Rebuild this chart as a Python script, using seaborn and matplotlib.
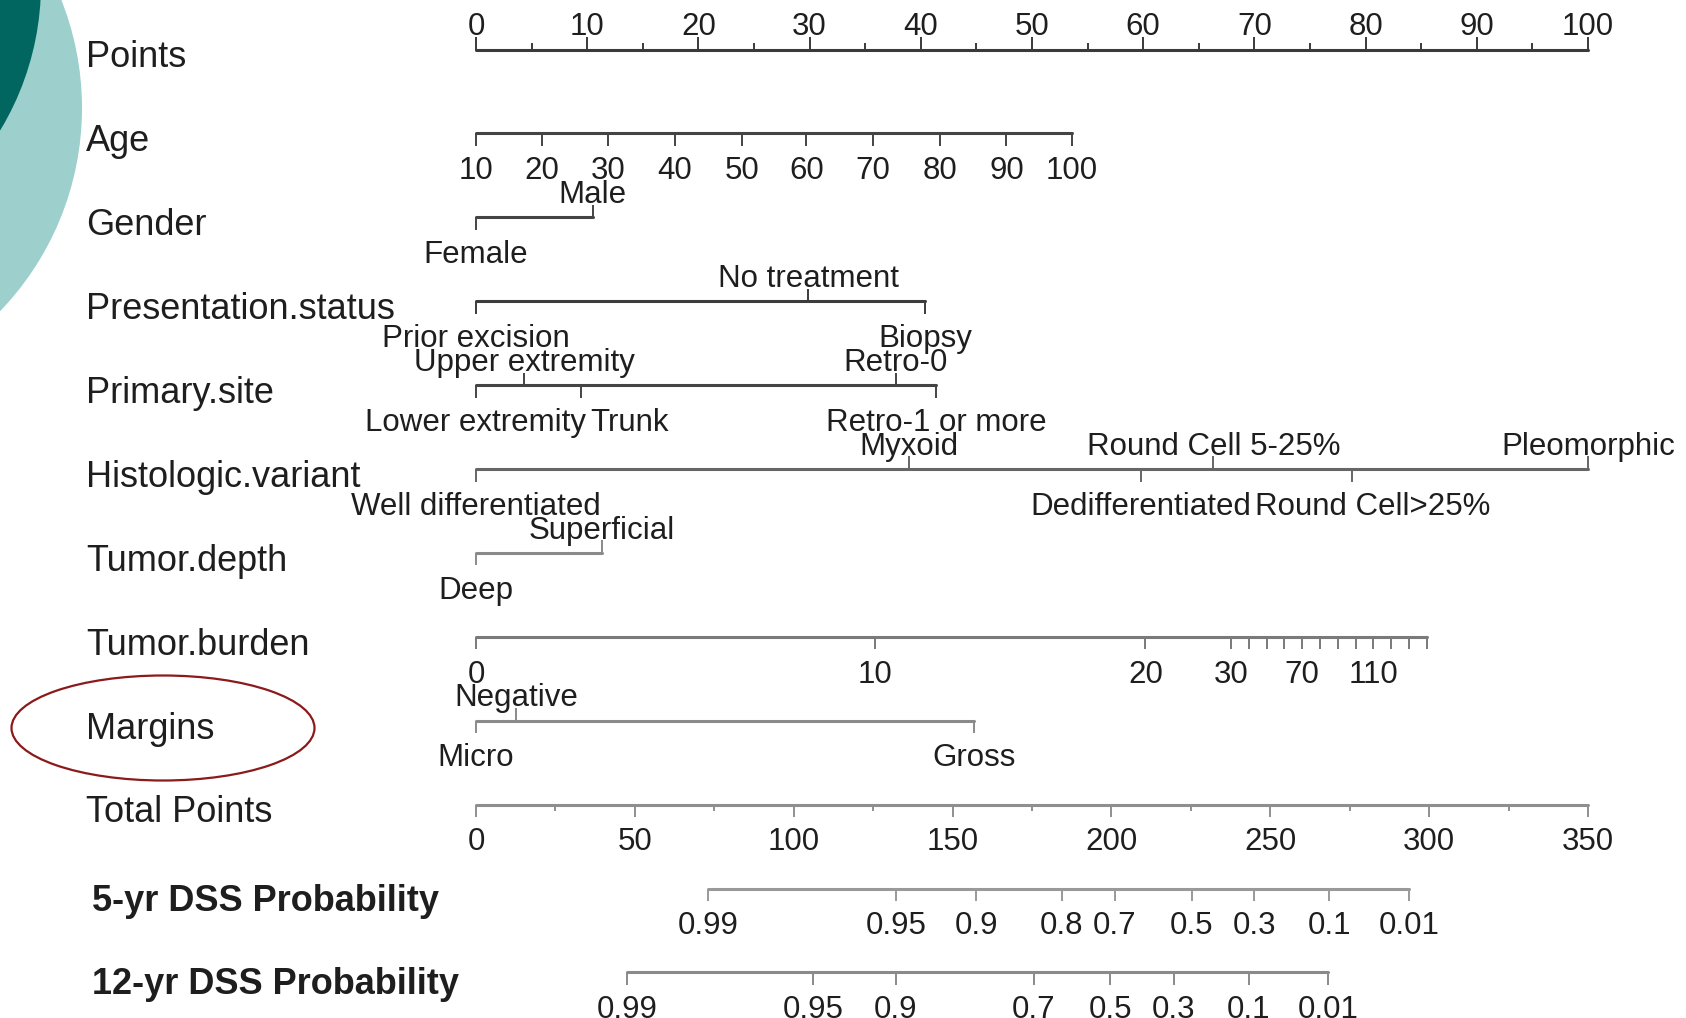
import numpy as np
import pandas as pd
import matplotlib
matplotlib.use("Agg")
import matplotlib.pyplot as plt
from matplotlib.patches import Ellipse
import seaborn as sns

sns.set_theme(style="white")
plt.rcParams["font.family"] = ["Liberation Sans", "DejaVu Sans"]

# ---------------------------------------------------------------- data
row_titles = ["Points", "Age", "Gender", "Presentation.status", "Primary.site",
              "Histologic.variant", "Tumor.depth", "Tumor.burden", "Margins",
              "Total Points", "5-yr DSS Probability", "12-yr DSS Probability"]

points_major = [0, 10, 20, 30, 40, 50, 60, 70, 80, 90, 100]
points_minor = [5, 15, 25, 35, 45, 55, 65, 75, 85, 95]

age_values = [10, 20, 30, 40, 50, 60, 70, 80, 90, 100]
age_points = [0, 5.9, 11.9, 17.9, 23.9, 29.7, 35.7, 41.7, 47.7, 53.6]

gender_levels = ["Female", "Male"]
gender_points = [0, 10.5]
gender_sides = ["below", "above"]

presentation_levels = ["Prior excision", "No treatment", "Biopsy"]
presentation_points = [0, 29.9, 40.4]
presentation_sides = ["below", "above", "below"]

site_levels = ["Lower extremity", "Upper extremity", "Trunk", "Retro-0", "Retro-1 or more"]
site_points = [0, 4.35, 9.45, 37.75, 41.4]
site_sides = ["below", "above", "below", "above", "below"]

histo_levels = ["Well differentiated", "Myxoid", "Dedifferentiated",
                "Round Cell 5-25%", "Round Cell>25%", "Pleomorphic"]
histo_points = [0, 38.9, 59.8, 66.3, 78.8, 100]
histo_sides = ["below", "above", "below", "above", "below", "above"]

depth_levels = ["Deep", "Superficial"]
depth_points = [0, 11.3]
depth_sides = ["below", "above"]

burden_values = [0, 10, 20, 30, 40, 50, 60, 70, 80, 90, 100, 110, 120, 130, 140]
burden_points = [0, 35.9, 60.2, 67.9, 69.5, 71.1, 72.7, 74.3, 75.9, 77.5,
                 79.1, 80.7, 82.3, 83.9, 85.5]
burden_labelled = [0, 10, 20, 30, 70, 110]

margin_levels = ["Micro", "Negative", "Gross"]
margin_points = [0, 3.6, 44.8]
margin_sides = ["below", "above", "below"]

total_major = [0, 50, 100, 150, 200, 250, 300, 350]
total_minor = [25, 75, 125, 175, 225, 275, 325]
total_max = 350

dss5_labels = ["0.99", "0.95", "0.9", "0.8", "0.7", "0.5", "0.3", "0.1", "0.01"]
dss5_total = [73.1, 132.1, 157.4, 184.4, 201.0, 225.3, 244.9, 268.6, 293.6]

dss12_labels = ["0.99", "0.95", "0.9", "0.7", "0.5", "0.3", "0.1", "0.01"]
dss12_total = [47.5, 106.0, 132.1, 175.6, 199.6, 219.6, 243.3, 268.1]

# ---------------------------------------------------------------- layout
W, H = 1686, 1018
PX_PER_PT = 11.12          # pixels per point on the Points scale
X0_PX = 476                # pixel column of 0 points
ROW0_PX, ROW_STEP_PX = 49.5, 83.9

TICK_FS = 22.5
TITLE_FS = 26
TICK_LEN = 0.15
MINOR_LEN = 0.08
ABOVE_OFF = -0.265
BELOW_OFF = 0.45
TEXT_COLOR = "#1e1e1e"

row_colors = {
    "Points": "#3a3a3a", "Age": "#444444", "Gender": "#444444",
    "Presentation.status": "#3c3c3c", "Primary.site": "#444444",
    "Histologic.variant": "#666666", "Tumor.depth": "#8a8a8a",
    "Tumor.burden": "#7a7a7a", "Margins": "#8a8a8a",
    "Total Points": "#8f8f8f", "5-yr DSS Probability": "#999999",
    "12-yr DSS Probability": "#8a8a8a",
}


def tot2pts(v):
    return np.asarray(v, dtype=float) * 100.0 / total_max


# Each row: list of (points, label or None, side, is_minor)
rows = {}
rows["Points"] = ([(p, str(p), "above", False) for p in points_major] +
                  [(p, None, "above", True) for p in points_minor])
rows["Age"] = [(p, str(v), "below", False) for v, p in zip(age_values, age_points)]
rows["Gender"] = list(zip(gender_points, gender_levels, gender_sides, [False] * 2))
rows["Presentation.status"] = list(zip(presentation_points, presentation_levels,
                                       presentation_sides, [False] * 3))
rows["Primary.site"] = list(zip(site_points, site_levels, site_sides, [False] * 5))
rows["Histologic.variant"] = list(zip(histo_points, histo_levels, histo_sides, [False] * 6))
rows["Tumor.depth"] = list(zip(depth_points, depth_levels, depth_sides, [False] * 2))
rows["Tumor.burden"] = [(p, str(v) if v in burden_labelled else None, "below", False)
                        for v, p in zip(burden_values, burden_points)]
rows["Margins"] = list(zip(margin_points, margin_levels, margin_sides, [False] * 3))
rows["Total Points"] = ([(p, str(v), "below", False)
                         for v, p in zip(total_major, tot2pts(total_major))] +
                        [(p, None, "below", True) for p in tot2pts(total_minor)])
rows["5-yr DSS Probability"] = [(p, l, "below", False)
                                for l, p in zip(dss5_labels, tot2pts(dss5_total))]
rows["12-yr DSS Probability"] = [(p, l, "below", False)
                                 for l, p in zip(dss12_labels, tot2pts(dss12_total))]

# ---------------------------------------------------------------- figure
fig = plt.figure(figsize=(W / 100, H / 100), dpi=100, facecolor="white")
ax = fig.add_axes([0, 0, 1, 1])

# decorative discs in the upper-left corner
fig.add_artist(Ellipse((-211 / W, 1 - 108 / H), 2 * 293 / W, 2 * 293 / H,
                       transform=fig.transFigure, facecolor="#9dcfcc",
                       edgecolor="none", zorder=-2))
fig.add_artist(Ellipse((-242 / W, 1 + 16 / H), 2 * 283 / W, 2 * 283 / H,
                       transform=fig.transFigure, facecolor="#00665f",
                       edgecolor="none", zorder=-1))

# horizontal scale lines
seg = []
for i, name in enumerate(row_titles):
    xs = [t[0] for t in rows[name]]
    seg.append({"row": name, "x": min(xs), "y": i})
    seg.append({"row": name, "x": max(xs), "y": i})
seg = pd.DataFrame(seg)
sns.lineplot(data=seg, x="x", y="y", hue="row", palette=row_colors, units="row",
             estimator=None, sort=False, legend=False, linewidth=2.2, ax=ax)

label_groups = {}
for i, name in enumerate(row_titles):
    col = row_colors[name]
    for p, lab, side, minor in rows[name]:
        length = MINOR_LEN if minor else TICK_LEN
        sgn = -1 if side == "above" else 1
        ax.vlines(p, i, i + sgn * length, colors=col, linewidth=1.4)
        if lab is not None:
            off = ABOVE_OFF if side == "above" else BELOW_OFF
            t = ax.text(p, i + off, lab, ha="center", va="center",
                        fontsize=TICK_FS, color=TEXT_COLOR)
            label_groups.setdefault((name, side), []).append(t)

# row titles
for i, name in enumerate(row_titles):
    bold = "DSS" in name
    ax.text(92 / W if bold else 86 / W, i + (0.15 if bold else 0.1), name,
            transform=ax.get_yaxis_transform(), ha="left", va="center",
            fontsize=26 if bold else TITLE_FS,
            fontweight="bold" if bold else "normal", color=TEXT_COLOR)

# highlight ring around the Margins title
fig.add_artist(Ellipse((163 / W, 1 - 728 / H), 303 / W, 105 / H,
                       transform=fig.transFigure, facecolor="none",
                       edgecolor="#8b1a1a", linewidth=1.6, zorder=5))

ax.set_xlim(-X0_PX / PX_PER_PT, (W - X0_PX) / PX_PER_PT)
ax.set_ylim((H - ROW0_PX) / ROW_STEP_PX, -ROW0_PX / ROW_STEP_PX)
ax.axis("off")

# push labels right when they would collide with their left neighbour
fig.canvas.draw()
renderer = fig.canvas.get_renderer()
gap = 4
for texts in label_groups.values():
    texts = sorted(texts, key=lambda t: t.get_position()[0])
    prev_right = None
    for t in texts:
        bb = t.get_window_extent(renderer)
        if prev_right is not None and bb.x0 < prev_right + gap:
            shift = prev_right + gap - bb.x0
            x, y = t.get_position()
            t.set_position((x + shift / PX_PER_PT, y))
            bb = t.get_window_extent(renderer)
        prev_right = bb.x1

fig.savefig("out.png", dpi=100, facecolor="white")
